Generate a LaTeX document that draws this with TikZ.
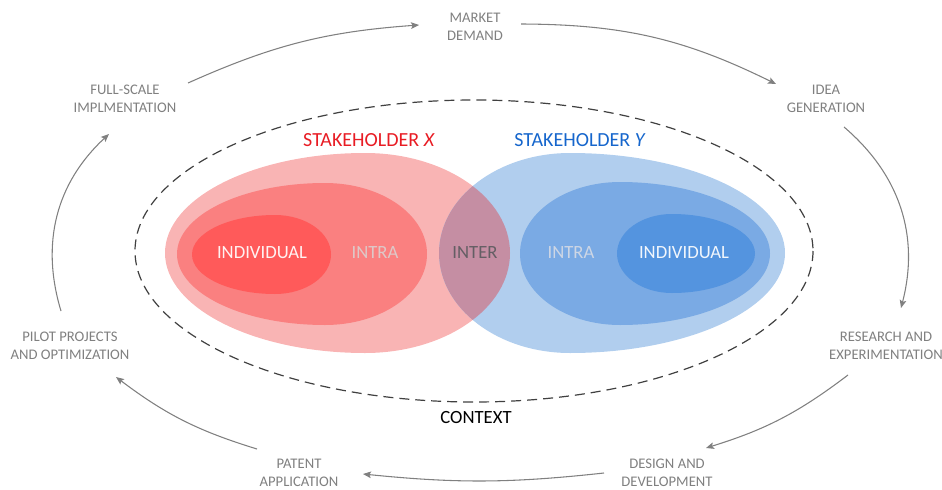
\documentclass[tikz,border=0pt]{standalone}
\usepackage{fontspec}
\setmainfont{Carlito}
\usepackage{tikz}
\usetikzlibrary{arrows.meta,calc}
\definecolor{stagegray}{RGB}{128,128,128}
\definecolor{pinkout}{RGB}{249,180,180}
\definecolor{pinkmid}{RGB}{250,128,128}
\definecolor{pinkin}{RGB}{255,90,90}
\definecolor{blueout}{RGB}{177,206,238}
\definecolor{bluemid}{RGB}{122,170,228}
\definecolor{bluein}{RGB}{84,148,223}
\definecolor{lens}{RGB}{197,142,163}
\definecolor{redtext}{RGB}{232,28,36}
\definecolor{bluetext}{RGB}{22,102,204}

% egg: left x, x of top, right x, top y, bottom y
\newcommand\eggpath[5]{(#1,{(#4+#5)/2}) .. controls (#1,{(#4+#5)/2-0.276*(#5-#4)}) and ({#2-0.552*(#2-#1)},#4) .. (#2,#4)
 .. controls ({#2+0.552*(#3-#2)},#4) and (#3,{(#4+#5)/2-0.276*(#5-#4)}) .. (#3,{(#4+#5)/2})
 .. controls (#3,{(#4+#5)/2+0.276*(#5-#4)}) and ({#2+0.552*(#3-#2)},#5) .. (#2,#5)
 .. controls ({#2-0.552*(#2-#1)},#5) and (#1,{(#4+#5)/2+0.276*(#5-#4)}) .. cycle}

\begin{document}
\begin{tikzpicture}[x=0.75pt,y=-0.75pt,>={Stealth[length=6pt,width=5pt,inset=1.2pt]},
stage/.style={text=stagegray,align=center,font=\fontsize{11}{13.5}\selectfont},
level/.style={font=\fontsize{14}{16}\selectfont},
flow/.style={->,draw=stagegray,line width=0.8pt}]

\useasboundingbox (0,0) rectangle (942,489);

% context
\draw[dash pattern=on 7.5pt off 4.5pt,line width=0.9pt,black!75] (474,251) ellipse [x radius=339,y radius=151];

% stakeholders
\fill[pinkout] \eggpath{165}{365}{510}{153}{353};
\fill[blueout] \eggpath{439}{570}{785}{153}{353};
\begin{scope}
\clip \eggpath{165}{365}{510}{153}{353};
\fill[lens] \eggpath{439}{570}{785}{153}{353};
\end{scope}
\fill[pinkmid] \eggpath{177}{325}{427}{183}{325};
\fill[pinkin] \eggpath{192}{275}{331}{215}{294};
\fill[bluemid] \eggpath{520}{620}{770}{182}{325};
\fill[bluein] \eggpath{617}{672}{755}{214}{293};

\node[level,text=white!92!pinkin] (indX) at (262,253) {INDIVIDUAL};
\node[level,text={rgb,255:red,222;green,200;blue,200}] (intraX) at (375,253) {INTRA};
\node[level,text={rgb,255:red,100;green,94;blue,100}] (inter) at (475,253) {INTER};
\node[level,text={rgb,255:red,205;green,214;blue,228}] (intraY) at (571,253) {INTRA};
\node[level,text=white!92!bluein] (indY) at (684,253) {INDIVIDUAL};

\node[font=\fontsize{15}{18}\selectfont,text=redtext] (holderX) at (369,140) {STAKEHOLDER \textit{X}};
\node[font=\fontsize{15}{18}\selectfont,text=bluetext] (holderY) at (580,140) {STAKEHOLDER \textit{Y}};
\node[level] (context) at (476,418) {CONTEXT};

% innovation cycle
\node[stage] (market) at (475,27) {MARKET\\DEMAND};
\node[stage] (idea) at (826,99) {IDEA\\GENERATION};
\node[stage] (research) at (886,346) {RESEARCH AND\\EXPERIMENTATION};
\node[stage] (design) at (667,473) {DESIGN AND\\DEVELOPMENT};
\node[stage] (patent) at (299,473) {PATENT\\APPLICATION};
\node[stage] (pilot) at (70,346) {PILOT PROJECTS\\AND OPTIMIZATION};
\node[stage] (full) at (125,99) {FULL-SCALE\\IMPLMENTATION};

\draw[flow] ($(full)+(63,-16)$) to[bend left=10] ($(market)+(-56,-2)$);
\draw[flow] ($(market)+(46,-3)$) to[bend left=13] ($(idea)+(-50,-15)$);
\draw[flow] ($(idea)+(18,28)$) to[bend left=32] ($(research)+(15,-38)$);
\draw[flow] ($(research)+(-38,29)$) to[bend left=10] ($(design)+(39,-25)$);
\draw[flow] ($(design)+(-63,0)$) to[bend left=6] ($(patent)+(64,1)$);
\draw[flow] ($(patent)+(-42,-24)$) to[bend left=10] ($(pilot)+(46,31)$);
\draw[flow] ($(pilot)+(-9,-35)$) to[bend left=32] ($(full)+(-16,35)$);

\end{tikzpicture}
\end{document}
